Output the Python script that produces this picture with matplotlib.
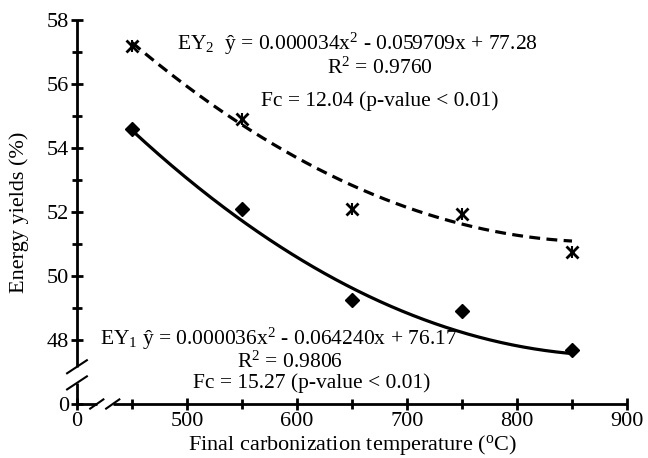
import matplotlib
matplotlib.use('Agg')
import matplotlib.pyplot as plt
import numpy as np

plt.rcParams.update({'font.family': 'Liberation Serif', 'font.size': 16,
                     'mathtext.fontset': 'custom',
                     'mathtext.rm': 'Liberation Serif',
                     'mathtext.it': 'Liberation Serif:italic'})

# final carbonization temperature (C)
temps = [450, 550, 650, 750, 850]
ey1 = [54.6, 52.1, 49.25, 48.9, 47.7]
ey2 = [57.2, 54.9, 52.1, 51.95, 50.75]

# trendline coefficients (a x^2 + b x + c)
coef1 = [0.000036, -0.064240, 76.17]
coef2 = [0.000034, -0.059709, 77.28]

xticks = [400, 500, 600, 700, 800, 900]
xlabels = ['0', '500', '600', '700', '800', '900']
yticks = [46, 48, 50, 52, 54, 56, 58]
ylabels = ['0', '48', '50', '52', '54', '56', '58']

fig = plt.figure(figsize=(6.48, 4.58), dpi=100)
ax = fig.add_axes([0.1188, 0.1179, 0.8488, 0.8384])

xs = np.linspace(temps[0], temps[-1], 200)
ax.plot(xs, np.polyval(coef2, xs), color='black', lw=2.3, ls=(0, (3.4, 2.0)))
ax.plot(xs, np.polyval(coef1, xs), color='black', lw=2.3)
ax.plot(temps, ey2, ls='none', marker='x', ms=8.5, mew=2, color='black')
ax.plot(temps, ey2, ls='none', marker='|', ms=9, mew=1.5, color='black')
ax.plot(temps, ey1, ls='none', marker='D', ms=7.5, color='black')

ax.set_xlim(400, 900)
ax.set_ylim(46, 58)
ax.set_xticks(xticks, xlabels)
ax.set_yticks(yticks, ylabels)
ax.set_xticks([450, 550, 650, 750, 850], minor=True)
ax.set_yticks([49, 51, 53, 55, 57], minor=True)
ax.tick_params(which='major', direction='inout', length=9, width=2, color='black')
ax.tick_params(which='minor', direction='inout', length=7, width=2, color='black')
ax.tick_params(axis='x', pad=1)
ax.tick_params(axis='y', pad=1)

for s in ax.spines.values():
    s.set_visible(False)

# broken axes
bx = [0.036, 0.065]
by = [0.055, 0.097]
kw = dict(transform=ax.transAxes, color='black', lw=2, clip_on=False, solid_capstyle='butt')
ax.plot([0, bx[0]], [0, 0], **kw)
ax.plot([bx[1], 1], [0, 0], **kw)
ax.plot([0, 0], [0, by[0]], **kw)
ax.plot([0, 0], [by[1], 1], **kw)
kw2 = dict(transform=ax.transAxes, color='black', lw=1.5, clip_on=False)
for b in bx:
    ax.plot([b - 0.012, b + 0.012], [-0.012, 0.012], **kw2)
for b in by:
    ax.plot([-0.018, 0.018], [b - 0.017, b + 0.017], **kw2)

fs = 15.5
ax.text(491, 57.25, r'EY$_{\mathregular{2}}$  ŷ = 0.000034x$^{\mathregular{2}}$ - 0.059709x + 77.28', va='center', fontsize=fs)
ax.text(675, 56.5, r'R$^{\mathregular{2}}$ = 0.9760', ha='center', va='center', fontsize=fs)
ax.text(675, 55.45, 'Fc = 12.04 (p-value < 0.01)', ha='center', va='center', fontsize=fs)
ax.text(421, 48.03, r'EY$_{\mathregular{1}}$ ŷ = 0.000036x$^{\mathregular{2}}$ - 0.064240x + 76.17', va='center', fontsize=fs)
ax.text(594, 47.3, r'R$^{\mathregular{2}}$ = 0.9806', ha='center', va='center', fontsize=fs)
ax.text(613, 46.64, 'Fc = 15.27 (p-value < 0.01)', ha='center', va='center', fontsize=fs)

ax.set_xlabel(r'Final carbonization temperature ($^{\mathregular{o}}$C)', labelpad=2)
ax.set_ylabel('Energy yields (%)', labelpad=13)

fig.savefig('out.png', dpi=100)
